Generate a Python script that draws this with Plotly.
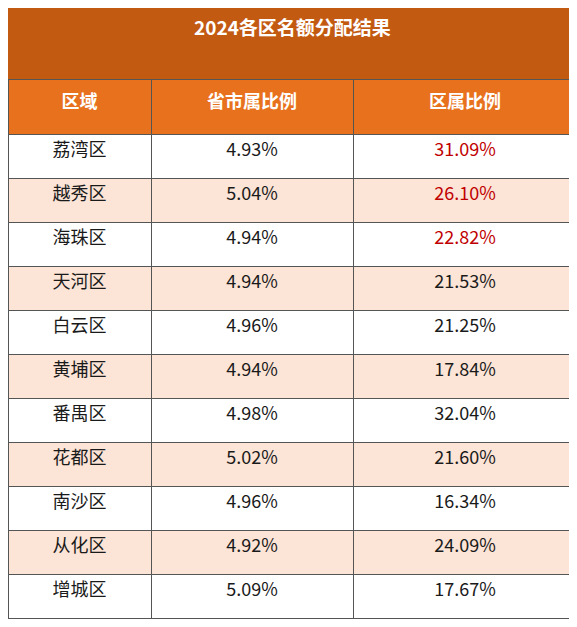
import plotly.graph_objects as go

title = "2024各区名额分配结果"
headers = ["区域", "省市属比例", "区属比例"]
districts = ["荔湾区", "越秀区", "海珠区", "天河区", "白云区", "黄埔区", "番禺区", "花都区", "南沙区", "从化区", "增城区"]
provincial = ["4.93%", "5.04%", "4.94%", "4.94%", "4.96%", "4.94%", "4.98%", "5.02%", "4.96%", "4.92%", "5.09%"]
district_share = ["31.09%", "26.10%", "22.82%", "21.53%", "21.25%", "17.84%", "32.04%", "21.60%", "16.34%", "24.09%", "17.67%"]
highlight = [True, True, True] + [False] * 8

W, H = 569, 619
title_h = 71
n = len(districts)
fills = ["#ffffff" if i % 2 == 0 else "#fce4d6" for i in range(n)]
dark = "#1a1a1a"
red_col = ["#c00000" if h else dark for h in highlight]

fig = go.Figure(go.Table(
    domain=dict(x=[0, 1], y=[0, (H - title_h) / H]),
    columnwidth=[143, 202, 224],
    header=dict(values=[f"<b>{h}</b>" for h in headers], fill_color="#e8711e",
                font=dict(color="white", size=18, family="Noto Sans CJK SC"),
                align="center", height=55, line=dict(color="#555555", width=1)),
    cells=dict(values=[districts, provincial, district_share],
               fill_color=[fills, fills, fills],
               font=dict(color=[[dark] * n, [dark] * n, red_col], size=18, family="Noto Sans CJK SC"),
               align="center", height=44, line=dict(color="#555555", width=1)),
))
fig.add_shape(type="rect", xref="paper", yref="paper", x0=0, x1=1, y0=(H - title_h) / H, y1=1,
              fillcolor="#c35a12", line=dict(width=0), layer="below")
fig.add_annotation(text=f"<b>{title}</b>", xref="paper", yref="paper", x=0.5,
                   y=1 - 18 / H, yanchor="middle", showarrow=False,
                   font=dict(color="white", size=19, family="Noto Sans CJK SC"))
fig.update_layout(width=W, height=H, margin=dict(l=0, r=0, t=0, b=0),
                  paper_bgcolor="white")
fig.write_html("out.html")
